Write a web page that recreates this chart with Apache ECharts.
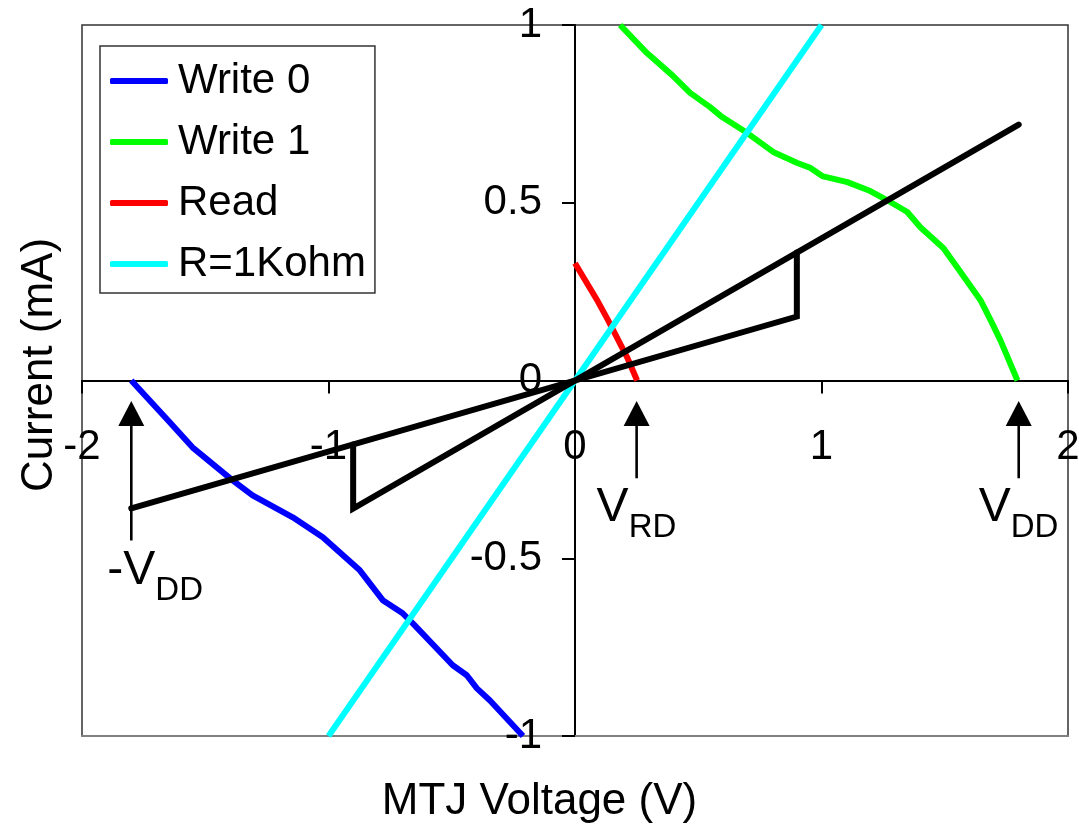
<!DOCTYPE html>
<html>
<head>
<meta charset="utf-8">
<script src="https://cdn.jsdelivr.net/npm/echarts@6/dist/echarts.min.js"></script>
<style>
html,body{margin:0;padding:0;background:#fff;}
#chart{width:1079px;height:828px;}
</style>
</head>
<body>
<div id="chart"></div>
<script>
// ---- Data ----
var write0 = [[-1.80,0.00],[-1.645,-0.117],[-1.552,-0.188],[-1.389,-0.281],[-1.308,-0.323],[-1.145,-0.385],[-1.023,-0.441],[-0.873,-0.534],[-0.780,-0.618],[-0.699,-0.655],[-0.658,-0.683],[-0.496,-0.801],[-0.439,-0.829],[-0.398,-0.866],[-0.345,-0.900],[-0.211,-1.000]];
var write1 = [[0.183,1.000],[0.292,0.921],[0.394,0.859],[0.467,0.809],[0.548,0.769],[0.597,0.741],[0.699,0.696],[0.804,0.643],[0.902,0.612],[0.955,0.598],[1.003,0.575],[1.105,0.558],[1.198,0.533],[1.267,0.507],[1.348,0.474],[1.401,0.431],[1.495,0.372],[1.564,0.305],[1.645,0.226],[1.686,0.170],[1.726,0.113],[1.795,0.000]];
var readCurve = [[0.00,0.330],[0.093,0.222],[0.134,0.170],[0.211,0.066],[0.252,0.000]];
var resistor = [[-1.0,-1.0],[1.0,1.0]];
var loadLineA = [[-1.8,-0.36],[0.9,0.18],[0.9,0.36]];
var loadLineB = [[-0.9,-0.18],[-0.9,-0.36],[1.8,0.72]];

var seriesNames = ['Write 0','Write 1','Read','R=1Kohm'];
var xTicks = {min:-2, max:2, interval:1};
var yTicks = {min:-1, max:1, interval:0.5};

// annotation arrows: x, tip y, tail y, label anchor x, label texts
var annotX = [-1.8, 0.25, 1.8];
var annotTipY = [-0.058, -0.058, -0.058];
var annotTailY = [-0.45, -0.275, -0.275];
var annotLabelX = [-1.67, 0.25, 1.8];
var annotMain = ['-V','V','V'];
var annotSub = ['DD','RD','DD'];

var FONT = '"Liberation Sans", Arial, Helvetica, sans-serif';

var W = 1079, H = 828;
var G = {left:82, right:11, top:25, bottom:92};
var plotW = W - G.left - G.right, plotH = H - G.top - G.bottom;
// move the axes so they cross at the origin (x=0 / y=0 lie at the plot centre)
var xAxisOffset = -plotH * (0 - yTicks.min) / (yTicks.max - yTicks.min);
var yAxisOffset = -plotW * (0 - xTicks.min) / (xTicks.max - xTicks.min);

var chart = echarts.init(document.getElementById('chart'));

var annotData = annotX.map(function(x,i){ return [x, annotTipY[i], annotTailY[i], annotLabelX[i]]; });

function renderArrow(params, api){
  var i = params.dataIndex;
  var tip = api.coord([api.value(0), api.value(1)]);
  var tail = api.coord([api.value(0), api.value(2)]);
  var lab = api.coord([api.value(3), api.value(2)]);
  var headLen = 25, headHalf = 13;
  return {
    type:'group',
    children:[
      {type:'line', shape:{x1:tail[0],y1:tail[1],x2:tip[0],y2:tip[1]+headLen-2}, style:{stroke:'#000',lineWidth:2.6}},
      {type:'polygon', shape:{points:[[tip[0],tip[1]],[tip[0]-headHalf,tip[1]+headLen],[tip[0]+headHalf,tip[1]+headLen]]}, style:{fill:'#000'}},
      {type:'text', style:{text:annotMain[i], x:lab[0]-8, y:tail[1]+30, align:'right', verticalAlign:'middle', fontSize:48, fontFamily:FONT, fill:'#000'}},
      {type:'text', style:{text:annotSub[i], x:lab[0]-8, y:tail[1]+50, align:'left', verticalAlign:'middle', fontSize:33, fontFamily:FONT, fill:'#000'}}
    ]
  };
}

var lineW = 6;
var option = {
  backgroundColor:'#fff',
  animation:false,
  grid:{left:G.left, right:G.right, top:G.top, bottom:G.bottom, show:true, borderColor:'#333', borderWidth:1.5, backgroundColor:'transparent', containLabel:false, outerBoundsMode:'none'},
  legend:{
    data:seriesNames,
    orient:'vertical',
    left:100, top:46,
    padding:[14,9,8,10],
    icon:'roundRect',
    itemWidth:58, itemHeight:6, itemGap:19,
    borderColor:'#333', borderWidth:1.5,
    backgroundColor:'#fff',
    textStyle:{fontSize:42, fontFamily:FONT, color:'#000', padding:[0,0,0,5]},
    z:10
  },
  xAxis:[{
    type:'value', min:xTicks.min, max:xTicks.max, interval:xTicks.interval,
    position:'bottom', offset:xAxisOffset,
    axisLine:{onZero:false, lineStyle:{color:'#000', width:2}},
    axisTick:{show:true, inside:false, length:13, lineStyle:{color:'#000', width:2}},
    axisLabel:{fontSize:42, fontFamily:FONT, color:'#000', margin:46, showMinLabel:true, showMaxLabel:true},
    splitLine:{show:false}
  },{
    type:'value', min:xTicks.min, max:xTicks.max, position:'bottom',
    axisLine:{onZero:false, lineStyle:{color:'#808080', width:2}},
    axisTick:{show:false}, axisLabel:{show:false}, splitLine:{show:false}
  }],
  yAxis:{
    type:'value', min:yTicks.min, max:yTicks.max, interval:yTicks.interval,
    position:'left', offset:yAxisOffset,
    axisLine:{onZero:false, lineStyle:{color:'#000', width:2}},
    axisTick:{show:true, inside:false, length:13, lineStyle:{color:'#000', width:2}},
    axisLabel:{fontSize:42, fontFamily:FONT, color:'#000', margin:33, showMinLabel:true, showMaxLabel:true},
    splitLine:{show:false}
  },
  graphic:[
    {type:'text', left:'center', style:{text:'MTJ Voltage (V)', fontSize:44, fontFamily:FONT, fill:'#000'}, top:780},
    {type:'text', x:40, y:365, rotation:Math.PI/2, style:{text:'Current (mA)', fontSize:44, fontFamily:FONT, fill:'#000', align:'center', verticalAlign:'middle'}}
  ],
  series:[
    {name:'Write 0', type:'line', data:write0, symbol:'none', lineStyle:{color:'#0000FF', width:lineW}, itemStyle:{color:'#0000FF'}, z:3},
    {name:'Write 1', type:'line', data:write1, symbol:'none', lineStyle:{color:'#00FF00', width:lineW}, itemStyle:{color:'#00FF00'}, z:3},
    {name:'Read', type:'line', data:readCurve, symbol:'none', lineStyle:{color:'#FF0000', width:lineW}, itemStyle:{color:'#FF0000'}, z:3},
    {name:'R=1Kohm', type:'line', data:resistor, symbol:'none', lineStyle:{color:'#00FFFF', width:lineW}, itemStyle:{color:'#00FFFF'}, z:3},
    {name:'loadA', type:'line', data:loadLineA, symbol:'none', lineStyle:{color:'#000', width:lineW, cap:'round', join:'miter'}, itemStyle:{color:'#000'}, z:4},
    {name:'loadB', type:'line', data:loadLineB, symbol:'none', lineStyle:{color:'#000', width:lineW, cap:'round', join:'miter'}, itemStyle:{color:'#000'}, z:4},
    {name:'arrows', type:'custom', data:annotData, renderItem:renderArrow, clip:false, z:5, silent:true}
  ]
};
chart.setOption(option);
</script>
</body>
</html>
